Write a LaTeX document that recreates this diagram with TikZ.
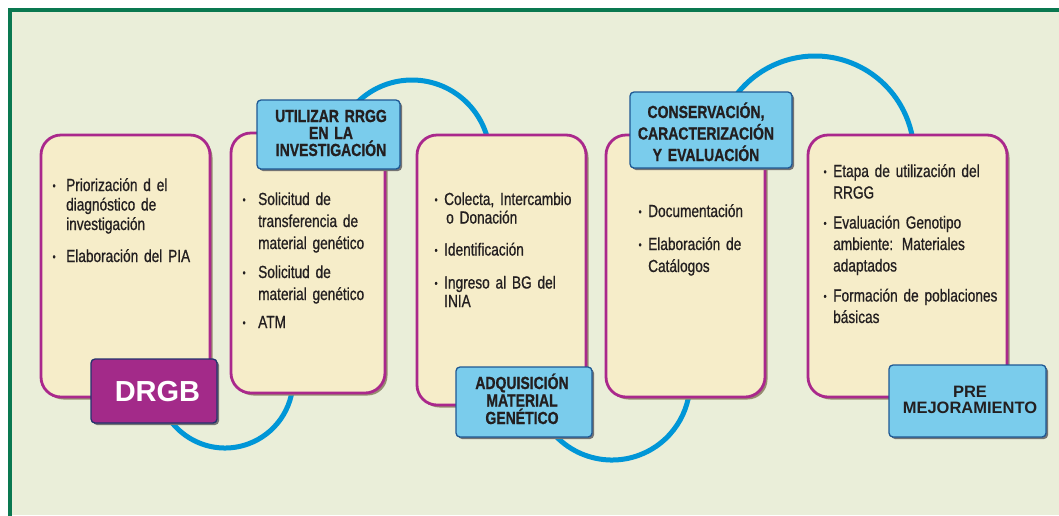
\documentclass[tikz,border=0pt]{standalone}
\usepackage{fontspec}
\setmainfont{Liberation Sans}
\newfontfamily\bodyf[FakeStretch=0.78,FakeBold=0.8]{Liberation Sans}
\newfontfamily\headf[FakeStretch=0.8,FakeBold=1]{Liberation Sans}
\usetikzlibrary{shadows}
\definecolor{bgc}{RGB}{234,238,217}
\definecolor{framec}{RGB}{10,120,80}
\definecolor{creamc}{RGB}{246,237,201}
\definecolor{magc}{RGB}{170,40,140}
\definecolor{shc}{RGB}{150,140,112}
\definecolor{bluef}{RGB}{122,204,236}
\definecolor{bluebd}{RGB}{30,88,148}
\definecolor{arcc}{RGB}{0,150,215}
\definecolor{drgbc}{RGB}{163,42,137}
\definecolor{navyc}{RGB}{35,50,110}
\definecolor{txtc}{RGB}{35,31,32}
\newcommand\bul[1]{\leavevmode\llap{\raisebox{1.5pt}{\fontsize{11}{11}\selectfont\textbullet}\hspace{#1}}}
\newcommand\jl[2]{\makebox[#1pt][s]{#2}}
\tikzset{
  cbox/.style={draw=magc, line width=2.8pt, fill=creamc, rounded corners=20pt,
    drop shadow={shadow xshift=2.5pt, shadow yshift=-2.5pt, fill=shc, opacity=1}, inner sep=0pt},
  lbox/.style={draw=bluebd, line width=1.3pt, fill=bluef, rounded corners=4pt,
    drop shadow={shadow xshift=2pt, shadow yshift=-2pt, fill=black!55, opacity=1}, inner sep=0pt},
  dbox/.style={lbox, draw=navyc, fill=drgbc},
  arcst/.style={draw=arcc, line width=5pt},
  bodytxt/.style={anchor=base west, inner sep=0pt, align=left, text=txtc},
  headtxt/.style={anchor=base, inner sep=0pt, align=center, text=txtc,
    font=\headf\bfseries\fontsize{17.5}{17}\selectfont}
}
\begin{document}
\begin{tikzpicture}[x=1pt,y=-1pt]
\useasboundingbox (0,0) rectangle (1059,515);
\clip (0,0) rectangle (1059,515);
\fill[bgc] (10,10) rectangle (1059,515);
\draw[framec, line width=4pt] (10,600) |- (1100,10);

% connecting arcs
\coordinate (c1) at (225,380);
\coordinate (c2) at (412,158);
\coordinate (c3) at (612,382);
\coordinate (c4) at (815,155);
\draw[arcst] ([shift={(160:68)}]c1) arc[start angle=160, end angle=0, radius=68];
\draw[arcst] ([shift={(-140:78)}]c2) arc[start angle=-140, end angle=0, radius=78];
\draw[arcst] ([shift={(150:78)}]c3) arc[start angle=150, end angle=-10, radius=78];
\draw[arcst] ([shift={(-150:99)}]c4) arc[start angle=-150, end angle=0, radius=99];

% cream boxes
\node[cbox, minimum width=169pt, minimum height=262pt] (b1) at (125.5,266) {};
\node[cbox, minimum width=154pt, minimum height=260pt] (b2) at (308,263) {};
\node[cbox, minimum width=169pt, minimum height=270pt] (b3) at (501.5,270) {};
\node[cbox, minimum width=159pt, minimum height=262pt] (b4) at (685.5,266) {};
\node[cbox, minimum width=199pt, minimum height=262pt] (b5) at (907.5,266) {};

% body texts
\node[bodytxt, text width=150pt, font=\bodyf\fontsize{17.5}{19.5}\selectfont] (t1) at (66,191)
 {\bul{10.6pt}\jl{99}{Priorización d el}\\ \jl{94}{diagnóstico de}\\ investigación\\[12.5pt]
  \bul{10.6pt}\jl{129}{Elaboración del PIA}};
\node[bodytxt, text width=125pt, font=\bodyf\fontsize{17.5}{22}\selectfont] (t2) at (258,205)
 {\bul{12.6pt}\jl{77}{Solicitud de}\\ \jl{112}{transferencia de}\\ \jl{114}{material genético}\\[7pt]
  \bul{12.6pt}\jl{77}{Solicitud de}\\ \jl{114}{material genético}\\[6pt]
  \bul{12.6pt}ATM};
\node[bodytxt, text width=135pt, font=\bodyf\fontsize{17.5}{18.5}\selectfont] (t3) at (444,205)
 {\bul{6.6pt}\jl{129}{Colecta, Intercambio}\\ \hspace*{2pt}\jl{72}{o Donación}\\[13.5pt]
  \bul{6.6pt}Identificación\\[14.5pt]
  \bul{6.6pt}\jl{118}{Ingreso al BG del}\\ INIA};
\node[bodytxt, text width=110pt, font=\bodyf\fontsize{17.5}{22}\selectfont] (t4) at (648,217)
 {\bul{6.6pt}Documentación\\[11pt]
  \bul{6.6pt}\jl{95}{Elaboración de}\\ Catálogos};
\node[bodytxt, text width=170pt, font=\bodyf\fontsize{17.5}{21.5}\selectfont] (t5) at (833,177)
 {\bul{6.6pt}\jl{149}{Etapa de utilización del}\\ RRGG\\[8.5pt]
  \bul{6.6pt}\jl{129}{Evaluación Genotipo}\\ \jl{131}{ambiente: Materiales}\\ adaptados\\[8.5pt]
  \bul{6.6pt}\jl{167}{Formación de poblaciones}\\ básicas};

% label boxes
\node[dbox, minimum width=126pt, minimum height=64pt] (l1) at (154,391) {};
\node[lbox, minimum width=143pt, minimum height=69pt] (l2) at (328.5,134.5) {};
\node[lbox, minimum width=136pt, minimum height=70pt] (l3) at (524,402) {};
\node[lbox, minimum width=162pt, minimum height=76pt] (l4) at (711,130) {};
\node[lbox, minimum width=157pt, minimum height=72pt] (l5) at (967.5,401) {};

% label texts
\node[anchor=base, inner sep=0pt, text=white, font=\bfseries\fontsize{29}{29}\selectfont] (h1) at (157.5,401) {DRGB};
\node[headtxt, text width=150pt] (h2) at (331,122) {UTILIZAR RRGG\\EN LA\\INVESTIGACIÓN};
\node[headtxt, text width=140pt, font=\headf\bfseries\fontsize{17.5}{17.5}\selectfont] (h3) at (522,389) {ADQUISICIÓN\\MATERIAL\\GENÉTICO};
\node[headtxt, text width=160pt, font=\headf\bfseries\fontsize{17.5}{21.5}\selectfont] (h4) at (706,118) {CONSERVACIÓN,\\CARACTERIZACIÓN\\Y EVALUACIÓN};
\node[headtxt, text width=155pt, font=\bfseries\fontsize{16.5}{16}\selectfont] (h5) at (970,397) {PRE\\MEJORAMIENTO};
\end{tikzpicture}
\end{document}
